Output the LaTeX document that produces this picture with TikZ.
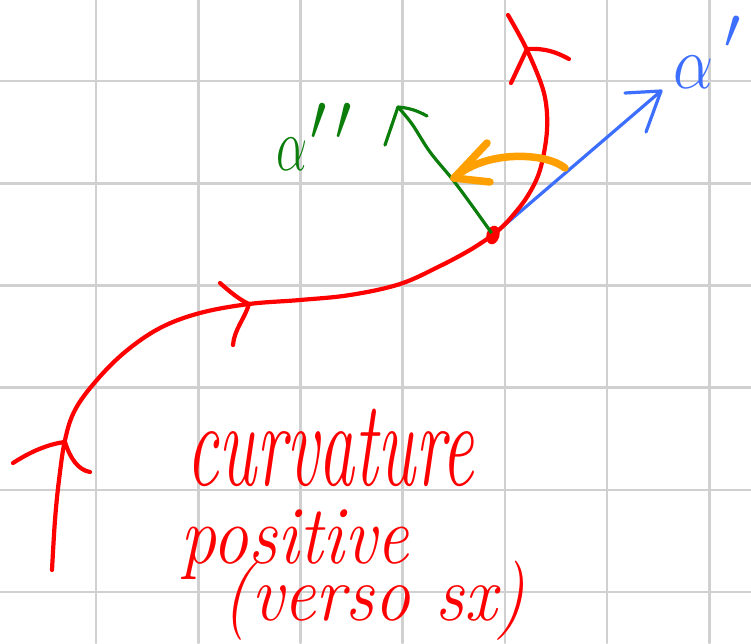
\RequirePackage{fix-cm}
\documentclass[tikz,border=0pt]{standalone}
\usetikzlibrary{shapes.geometric}
\definecolor{gridc}{RGB}{208,208,208}
\definecolor{penred}{RGB}{255,0,0}
\definecolor{penblue}{RGB}{60,110,255}
\definecolor{pengreen}{RGB}{10,125,10}
\definecolor{penorange}{RGB}{255,160,0}
\newcommand\handspacing{\lineskiplimit=-1000pt\relax\lineskip=0pt\relax}
\tikzset{
  gridline/.style={draw=gridc, line width=2.6pt},
  redpen/.style={draw=penred, line width=4.2pt},
  bluepen/.style={draw=penblue, line width=3.2pt},
  greenpen/.style={draw=pengreen, line width=3.2pt},
  orangepen/.style={draw=penorange, line width=7.5pt},
  hand/.style={inner sep=0pt, text=penred, align=left,
    font=\itshape\fontsize{72}{57}\selectfont\handspacing},
  greek/.style={inner sep=0pt, font=\fontsize{58}{58}\selectfont},
  dot/.style={ellipse, fill=penred, inner sep=0pt, minimum width=13pt, minimum height=19pt},
}
\begin{document}
\begin{tikzpicture}[x=1pt, y=-1pt, line cap=round, line join=round]
\useasboundingbox (0,0) rectangle (751,643);
\fill[white] (0,0) rectangle (751,643);
% grid
\foreach \i in {0,...,6} \draw[gridline] ({96+102.2*\i},0) -- ({96+102.2*\i},643);
\foreach \j in {0,...,5} \draw[gridline] (0,{81+102.2*\j}) -- (751,{81+102.2*\j});

% point on curve
\node[dot, rotate=-15] (P) at (493,235) {};
\coordinate (Tstart) at (52,570);
\coordinate (Tend) at (508,15);
\coordinate (Btip) at (661,91);
\coordinate (Gtip) at (398,107);
\coordinate (Ostart) at (565,168);
\coordinate (Otip) at (454,178);

% tangent vector (blue)
\draw[bluepen] (P.center) -- (Btip);
\draw[bluepen] (625,93) -- (Btip) -- (646,132);
% normal vector (green)
\draw[greenpen] plot[smooth, tension=0.6] coordinates {(P.center) (473,207) (453,180) (430,152) (412,124) (Gtip)};
\draw[greenpen] (385,145) -- (Gtip) .. controls (410,108) and (418,111) .. (427,116);

% red curve
\draw[redpen] plot[smooth, tension=0.6] coordinates {(Tstart) (55,520) (59,480) (65,440) (75,410) (96,381) (125,352) (160,328) (200,313) (249,304) (300,300) (350,295) (400,284) (440,266) (470,250) (P.center)};
\draw[redpen] plot[smooth, tension=0.55] coordinates {(P.center) (508,221) (527,197) (540,170) (547,130) (544,93) (527,50) (Tend)};
% arrowheads on red curve
\draw[redpen] (13,463) .. controls (30,452) and (48,444) .. (65,442) .. controls (70,458) and (78,470) .. (90,472);
\draw[redpen] (220,283) .. controls (230,292) and (240,300) .. (249,304) .. controls (245,318) and (234,330) .. (233,345);
\draw[redpen] (511,83) -- (527,49) .. controls (545,48) and (556,52) .. (569,59);

% orange rotation arrow
\draw[orangepen] (Ostart) .. controls (545,152) and (485,150) .. (Otip);
\draw[orangepen] (487,143) -- (Otip) -- (490,182);

% labels
\node[greek, text=pengreen, anchor=base west] (la2) at (276,170) {\scalebox{0.85}[1.3]{$\alpha$}\hspace{3pt}\raisebox{30pt}{\scalebox{1}[1.15]{$\prime\mskip3mu\prime$}}};
\node[greek, text=penblue, anchor=base west] (la1) at (673,88) {\scalebox{1.1}[1.3]{$\alpha$}\hspace{11pt}\raisebox{40pt}{$\prime$}};
\node[hand, anchor=base west] (lab) at (186,620) {\scalebox{1}[1.7]{curvature}\\[21pt]\hspace*{-6pt}\scalebox{1}[1.15]{positive}\\\hspace*{36pt}\scalebox{1}[1.1]{(verso sx)}};
\end{tikzpicture}
\end{document}
